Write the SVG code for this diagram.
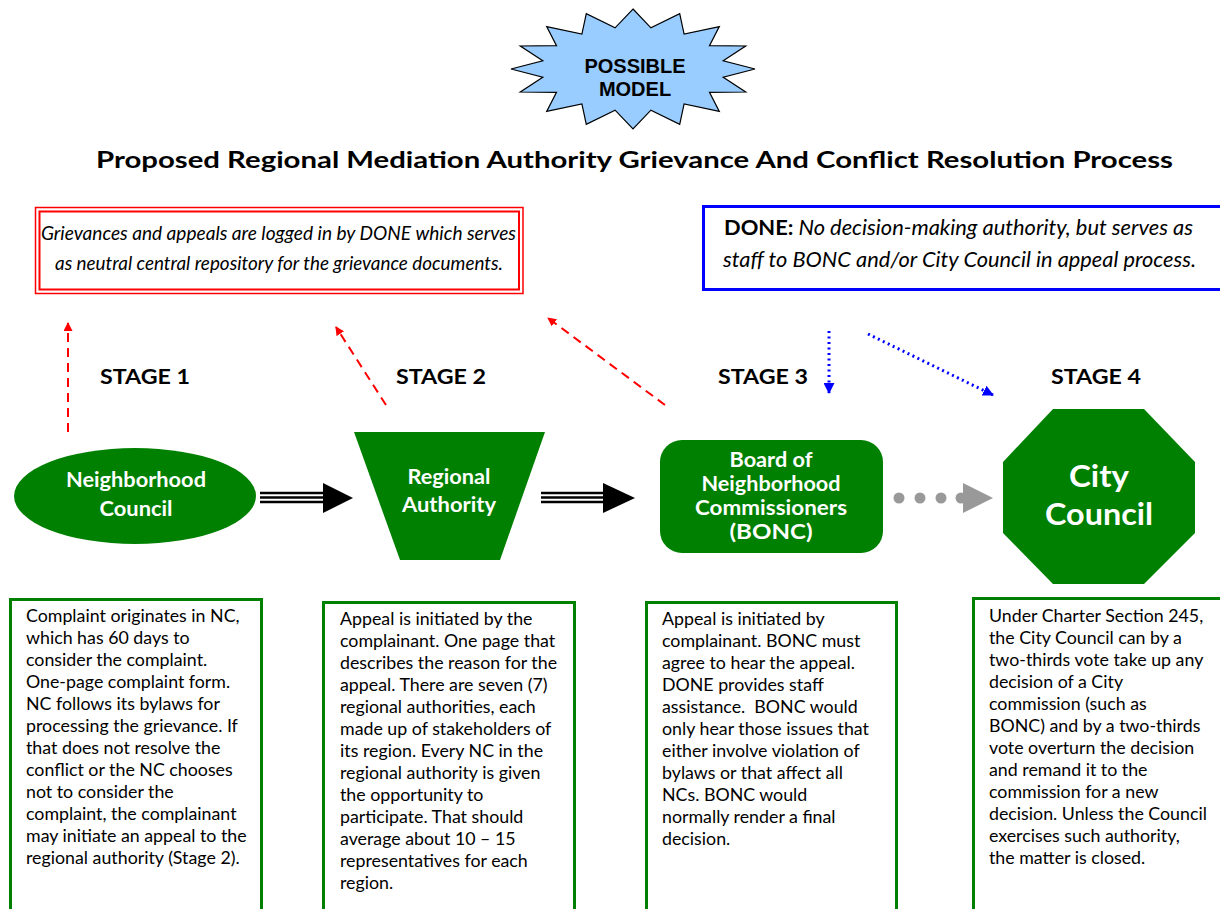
<svg xmlns="http://www.w3.org/2000/svg" width="1220" height="909" viewBox="0 0 1220 909">
<style>
.node{fill:#008000}
.wt{fill:#fff;font-family:Lato,"Open Sans",sans-serif;font-weight:bold;text-anchor:middle}
.stage{font-family:Lato,"Open Sans",sans-serif;font-weight:bold;font-size:20px;fill:#000}
.box{fill:#fff;stroke:#008000;stroke-width:3}
.bt{font-family:Lato,"Open Sans",sans-serif;font-size:17.8px;fill:#000}
.red{stroke:#ff0000;stroke-width:2;stroke-dasharray:9,6;fill:none}
.blue{stroke:#0000ff;stroke-width:3;stroke-dasharray:2,3.5;fill:none}
.tri{stroke:#000;stroke-width:2.5}
</style>
<defs>
<marker id="ra" markerWidth="9" markerHeight="9" refX="8" refY="4.5" orient="auto" markerUnits="userSpaceOnUse" viewBox="0 0 9 9"><path d="M0,0 L9,4.5 L0,9 Z" fill="#ff0000"/></marker>
<marker id="ba" markerWidth="11" markerHeight="11" refX="10" refY="5.5" orient="auto" markerUnits="userSpaceOnUse" viewBox="0 0 11 11"><path d="M0,0 L11,5.5 L0,11 Z" fill="#0000ff"/></marker>
</defs>
<rect width="1220" height="909" fill="#fff"/>

<g id="badge">
<polygon fill="#99ccff" stroke="#000" stroke-width="1.2" points="633,9 650.9,27.8 679.7,13.6 684.1,34.1 719.3,26.6 709.5,45.7 745.7,46 723.2,60.8 755,69 723.2,77.2 745.7,92 709.5,92.3 719.3,111.4 684.1,103.9 679.7,124.4 650.9,110.2 633,129 615.1,110.2 586.3,124.4 581.9,103.9 546.7,111.4 556.5,92.3 520.3,92 542.8,77.2 511,69 542.8,60.8 520.3,46 556.5,45.7 546.7,26.6 581.9,34.1 586.3,13.6 615.1,27.8"/>
<text x="635" y="73" font-family="Liberation Sans,Arial,sans-serif" font-weight="bold" font-size="20" text-anchor="middle">POSSIBLE</text>
<text x="635" y="96" font-family="Liberation Sans,Arial,sans-serif" font-weight="bold" font-size="20" text-anchor="middle">MODEL</text>
</g>

<text id="title" x="96" y="168" font-family="Lato,'Open Sans',sans-serif" font-weight="bold" font-size="23.5" textLength="1077" lengthAdjust="spacingAndGlyphs">Proposed Regional Mediation Authority Grievance And Conflict Resolution Process</text>

<g id="note-red">
<rect x="35.5" y="207.5" width="487.5" height="86" fill="#fff" stroke="#ff0000" stroke-width="1.5"/>
<rect x="39.5" y="211.5" width="479.5" height="78" fill="none" stroke="#ff0000" stroke-width="2"/>
<text x="41" y="240" font-family="Lato,'Open Sans',sans-serif" font-style="italic" font-size="19" textLength="475" lengthAdjust="spacingAndGlyphs">Grievances and appeals are logged in by DONE which serves</text>
<text x="55" y="270" font-family="Lato,'Open Sans',sans-serif" font-style="italic" font-size="19" textLength="448" lengthAdjust="spacingAndGlyphs">as neutral central repository for the grievance documents.</text>
</g>

<g id="note-blue">
<rect x="703.5" y="206.5" width="530" height="83" fill="#fff" stroke="#0000ff" stroke-width="3"/>
<text x="724" y="235" font-family="Lato,'Open Sans',sans-serif" font-size="21" textLength="469" lengthAdjust="spacingAndGlyphs"><tspan font-weight="bold">DONE:</tspan><tspan font-style="italic"> No decision-making authority, but serves as</tspan></text>
<text x="723" y="267" font-family="Lato,'Open Sans',sans-serif" font-size="21" font-style="italic" textLength="473" lengthAdjust="spacingAndGlyphs">staff to BONC and/or City Council in appeal process.</text>
</g>

<g id="stages">
<text class="stage" x="100" y="384" textLength="90" lengthAdjust="spacingAndGlyphs">STAGE 1</text>
<text class="stage" x="396" y="384" textLength="90" lengthAdjust="spacingAndGlyphs">STAGE 2</text>
<text class="stage" x="718" y="384" textLength="90" lengthAdjust="spacingAndGlyphs">STAGE 3</text>
<text class="stage" x="1051" y="384" textLength="90" lengthAdjust="spacingAndGlyphs">STAGE 4</text>
</g>

<g id="connectors">
<line class="red" x1="68" y1="432" x2="68" y2="323" marker-end="url(#ra)"/>
<line class="red" x1="386" y1="405" x2="336" y2="327" marker-end="url(#ra)"/>
<line class="red" x1="665" y1="405" x2="548" y2="318" marker-end="url(#ra)"/>
<line class="blue" x1="829" y1="331" x2="829" y2="393" marker-end="url(#ba)"/>
<line class="blue" x1="868" y1="334" x2="993" y2="395" marker-end="url(#ba)"/>
<g id="arrow-nc-ra">
<line class="tri" x1="260" y1="493" x2="324" y2="493"/>
<line class="tri" x1="260" y1="497.5" x2="324" y2="497.5"/>
<line class="tri" x1="260" y1="502" x2="324" y2="502"/>
<polygon points="323,483 353,498 323,513" fill="#000"/>
</g>
<g id="arrow-ra-bonc">
<line class="tri" x1="541" y1="493" x2="604" y2="493"/>
<line class="tri" x1="541" y1="497.5" x2="604" y2="497.5"/>
<line class="tri" x1="541" y1="502" x2="604" y2="502"/>
<polygon points="603,483 635,498 603,513" fill="#000"/>
</g>
<g id="arrow-bonc-cc" fill="#999">
<circle cx="899" cy="498" r="5.5"/>
<circle cx="920" cy="498" r="5.5"/>
<circle cx="941" cy="498" r="5.5"/>
<circle cx="961" cy="498" r="5.5"/>
<polygon points="963,483 993,498 963,513"/>
</g>
</g>

<g id="nc">
<ellipse class="node" cx="135" cy="496" rx="121" ry="48"/>
<text class="wt" x="136" y="487" font-size="20" textLength="140" lengthAdjust="spacingAndGlyphs">Neighborhood</text>
<text class="wt" x="136" y="516" font-size="20" textLength="73" lengthAdjust="spacingAndGlyphs">Council</text>
</g>

<g id="ra-node">
<polygon class="node" points="354,432 545,432 500,560 400,560"/>
<text class="wt" x="449" y="484" font-size="20" textLength="83" lengthAdjust="spacingAndGlyphs">Regional</text>
<text class="wt" x="449" y="512" font-size="20" textLength="94" lengthAdjust="spacingAndGlyphs">Authority</text>
</g>

<g id="bonc">
<rect class="node" x="660" y="440" width="223" height="113" rx="22"/>
<text class="wt" x="771" y="467" font-size="20" textLength="83" lengthAdjust="spacingAndGlyphs">Board of</text>
<text class="wt" x="771" y="491" font-size="20" textLength="139" lengthAdjust="spacingAndGlyphs">Neighborhood</text>
<text class="wt" x="771" y="515" font-size="20" textLength="152" lengthAdjust="spacingAndGlyphs">Commissioners</text>
<text class="wt" x="771" y="539" font-size="20" textLength="83" lengthAdjust="spacingAndGlyphs">(BONC)</text>
</g>

<g id="cc">
<polygon class="node" points="1053,409 1144,409 1195,462 1195,533 1144,584 1053,584 1003,533 1003,462"/>
<text class="wt" x="1099" y="487" font-size="30" textLength="60" lengthAdjust="spacingAndGlyphs">City</text>
<text class="wt" x="1099" y="525" font-size="30" textLength="108" lengthAdjust="spacingAndGlyphs">Council</text>
</g>

<g id="desc1">
<rect class="box" x="10.5" y="599.5" width="251" height="330"/>
<text class="bt" x="26" y="622">
<tspan x="26" dy="0">Complaint originates in NC,</tspan>
<tspan x="26" dy="22">which has 60 days to</tspan>
<tspan x="26" dy="22">consider the complaint.</tspan>
<tspan x="26" dy="22">One-page complaint form.</tspan>
<tspan x="26" dy="22">NC follows its bylaws for</tspan>
<tspan x="26" dy="22">processing the grievance. If</tspan>
<tspan x="26" dy="22">that does not resolve the</tspan>
<tspan x="26" dy="22">conflict or the NC chooses</tspan>
<tspan x="26" dy="22">not to consider the</tspan>
<tspan x="26" dy="22">complaint, the complainant</tspan>
<tspan x="26" dy="22">may initiate an appeal to the</tspan>
<tspan x="26" dy="22">regional authority (Stage 2).</tspan>
</text>
</g>

<g id="desc2">
<rect class="box" x="323.5" y="602.5" width="251" height="330"/>
<text class="bt" x="340" y="625">
<tspan x="340" dy="0">Appeal is initiated by the</tspan>
<tspan x="340" dy="22">complainant. One page that</tspan>
<tspan x="340" dy="22">describes the reason for the</tspan>
<tspan x="340" dy="22">appeal. There are seven (7)</tspan>
<tspan x="340" dy="22">regional authorities, each</tspan>
<tspan x="340" dy="22">made up of stakeholders of</tspan>
<tspan x="340" dy="22">its region. Every NC in the</tspan>
<tspan x="340" dy="22">regional authority is given</tspan>
<tspan x="340" dy="22">the opportunity to</tspan>
<tspan x="340" dy="22">participate. That should</tspan>
<tspan x="340" dy="22">average about 10 – 15</tspan>
<tspan x="340" dy="22">representatives for each</tspan>
<tspan x="340" dy="22">region.</tspan>
</text>
</g>

<g id="desc3">
<rect class="box" x="646.5" y="602.5" width="250" height="330"/>
<text class="bt" x="662" y="625">
<tspan x="662" dy="0">Appeal is initiated by</tspan>
<tspan x="662" dy="22">complainant. BONC must</tspan>
<tspan x="662" dy="22">agree to hear the appeal.</tspan>
<tspan x="662" dy="22">DONE provides staff</tspan>
<tspan x="662" dy="22" xml:space="preserve">assistance.  BONC would</tspan>
<tspan x="662" dy="22">only hear those issues that</tspan>
<tspan x="662" dy="22">either involve violation of</tspan>
<tspan x="662" dy="22">bylaws or that affect all</tspan>
<tspan x="662" dy="22">NCs. BONC would</tspan>
<tspan x="662" dy="22">normally render a final</tspan>
<tspan x="662" dy="22">decision.</tspan>
</text>
</g>

<g id="desc4">
<rect class="box" x="973.5" y="598.5" width="260" height="330"/>
<text class="bt" x="989" y="622">
<tspan x="989" dy="0">Under Charter Section 245,</tspan>
<tspan x="989" dy="22">the City Council can by a</tspan>
<tspan x="989" dy="22">two-thirds vote take up any</tspan>
<tspan x="989" dy="22">decision of a City</tspan>
<tspan x="989" dy="22">commission (such as</tspan>
<tspan x="989" dy="22">BONC) and by a two-thirds</tspan>
<tspan x="989" dy="22">vote overturn the decision</tspan>
<tspan x="989" dy="22">and remand it to the</tspan>
<tspan x="989" dy="22">commission for a new</tspan>
<tspan x="989" dy="22">decision. Unless the Council</tspan>
<tspan x="989" dy="22">exercises such authority,</tspan>
<tspan x="989" dy="22">the matter is closed.</tspan>
</text>
</g>
</svg>
